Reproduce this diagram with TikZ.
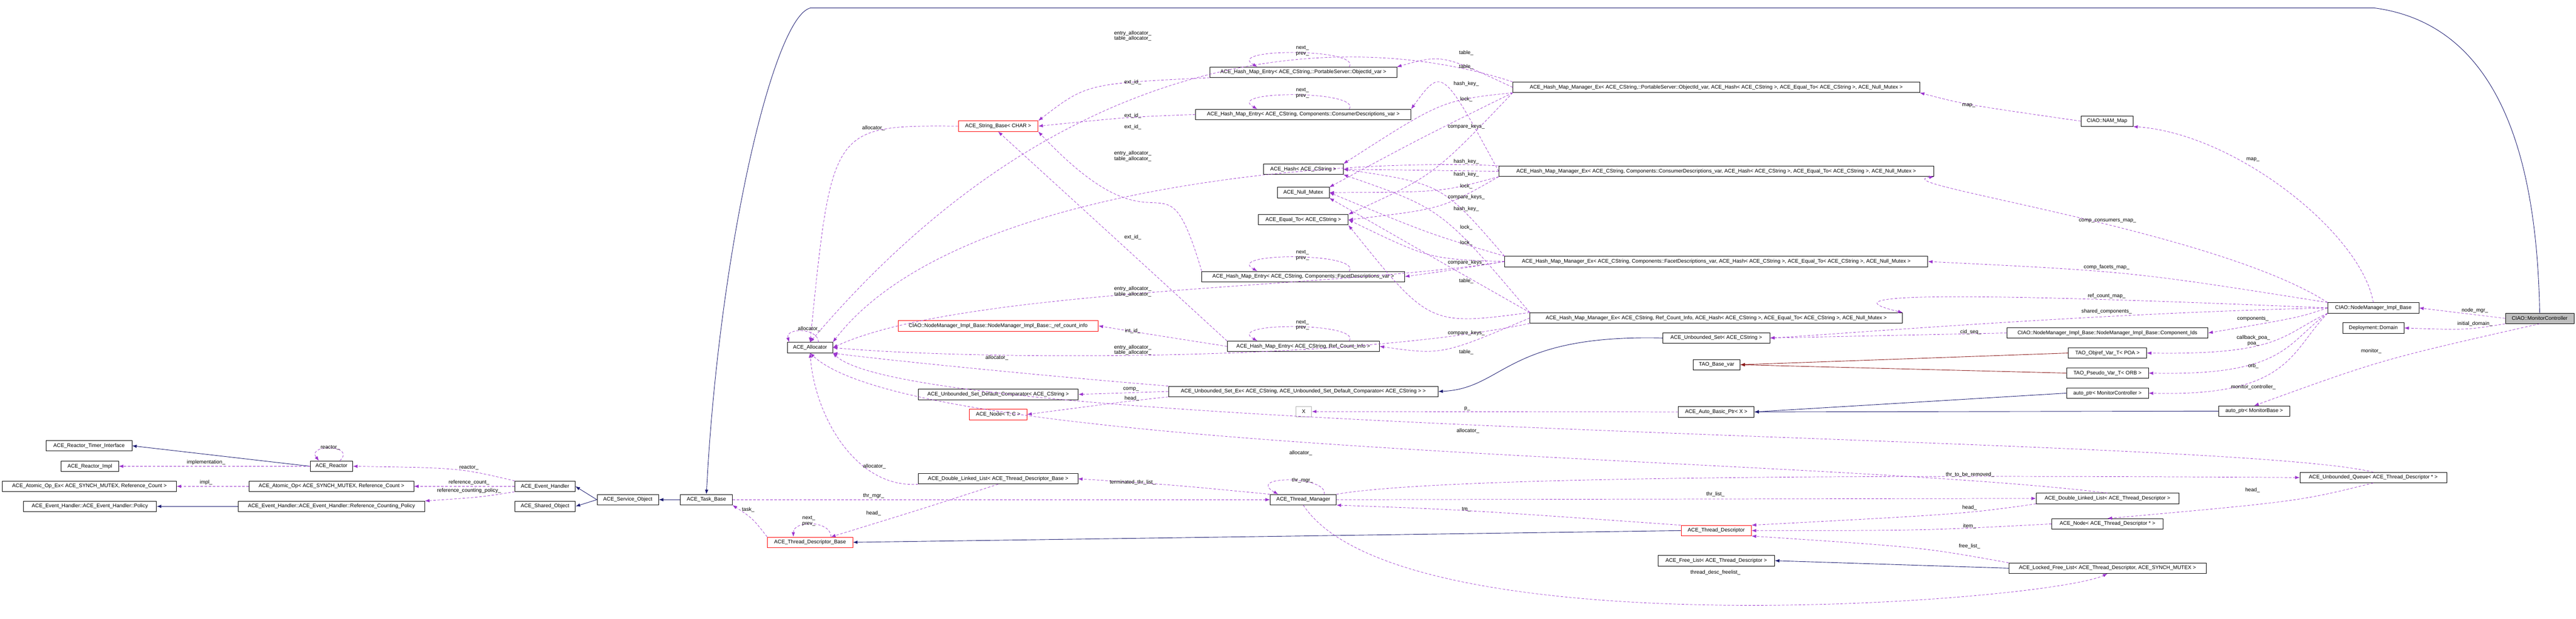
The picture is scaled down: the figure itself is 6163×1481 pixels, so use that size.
\documentclass[tikz,border=0pt]{standalone}
\usepackage{fontspec}
\setmainfont{Liberation Sans}
\usetikzlibrary{arrows.meta}
\definecolor{dorch}{HTML}{9A32CD}
\definecolor{navy}{HTML}{191970}
\definecolor{fbrick}{HTML}{8B1A1A}
\newcommand{\fs}{\fontsize{12.5}{13}\selectfont}
\tikzset{
 box/.style={draw=black, line width=1pt, minimum height=25pt, inner sep=2pt, font=\fs, fill=white},
 redbox/.style={box, draw=red},
 lbl/.style={font=\fs, inner sep=0pt, align=center},
 use/.style={draw=dorch, dash pattern=on 6pt off 4pt, line width=0.9pt, -{Latex[length=11pt,width=8pt]}},
 inh/.style={draw=navy, line width=1.1pt, -{Latex[length=11pt,width=8pt]}},
 tmp/.style={draw=fbrick, line width=1.1pt, -{Latex[length=11pt,width=8pt]}}
}
\begin{document}
\begin{tikzpicture}[x=1pt,y=-1pt]
\useasboundingbox (0,0) rectangle (6163,1481);
% ---- nodes ----
\node[box, fill=black!25, minimum width=164pt] (mc) at (6076,762) {CIAO::MonitorController};
\node[box, minimum width=218pt] (nmb) at (5678,737) {CIAO::NodeManager\_Impl\_Base};
\node[box, minimum width=147pt] (dom) at (5678,785) {Deployment::Domain};
\node[box, minimum width=124pt] (nam) at (5041,290) {CIAO::NAM\_Map};
\node[box, minimum width=481pt] (cids) at (5042,797) {CIAO::NodeManager\_Impl\_Base::NodeManager\_Impl\_Base::Component\_Ids};
\node[box, minimum width=187pt] (objref) at (5042,845) {TAO\_Objref\_Var\_T< POA >};
\node[box, minimum width=196pt] (pseudo) at (5042,893) {TAO\_Pseudo\_Var\_T< ORB >};
\node[box, minimum width=196pt] (apmc) at (5042,941) {auto\_ptr< MonitorController >};
\node[box, minimum width=170pt] (apmb) at (5393,984) {auto\_ptr< MonitorBase >};
\node[box, minimum width=351pt] (uq) at (5678,1143) {ACE\_Unbounded\_Queue< ACE\_Thread\_Descriptor * >};
\node[box, minimum width=341pt] (dlltd) at (5042,1193) {ACE\_Double\_Linked\_List< ACE\_Thread\_Descriptor >};
\node[box, minimum width=267pt] (nodetd) at (5042,1254) {ACE\_Node< ACE\_Thread\_Descriptor * >};
\node[box, minimum width=472pt] (lfl) at (5042,1360) {ACE\_Locked\_Free\_List< ACE\_Thread\_Descriptor, ACE\_SYNCH\_MUTEX >};
\node[box, minimum width=973pt] (m1) at (4106,209) {ACE\_Hash\_Map\_Manager\_Ex< ACE\_CString,::PortableServer::ObjectId\_var, ACE\_Hash< ACE\_CString >, ACE\_Equal\_To< ACE\_CString >, ACE\_Null\_Mutex >};
\node[box, minimum width=1040pt] (m2) at (4106,410) {ACE\_Hash\_Map\_Manager\_Ex< ACE\_CString, Components::ConsumerDescriptions\_var, ACE\_Hash< ACE\_CString >, ACE\_Equal\_To< ACE\_CString >, ACE\_Null\_Mutex >};
\node[box, minimum width=1012pt] (m3) at (4106,626) {ACE\_Hash\_Map\_Manager\_Ex< ACE\_CString, Components::FacetDescriptions\_var, ACE\_Hash< ACE\_CString >, ACE\_Equal\_To< ACE\_CString >, ACE\_Null\_Mutex >};
\node[box, minimum width=891pt] (m4) at (4106,761) {ACE\_Hash\_Map\_Manager\_Ex< ACE\_CString, Ref\_Count\_Info, ACE\_Hash< ACE\_CString >, ACE\_Equal\_To< ACE\_CString >, ACE\_Null\_Mutex >};
\node[box, minimum width=256pt] (uset) at (4106,809) {ACE\_Unbounded\_Set< ACE\_CString >};
\node[box, minimum width=112pt] (tbv) at (4107,873) {TAO\_Base\_var};
\node[box, minimum width=181pt] (abp) at (4106,986) {ACE\_Auto\_Basic\_Ptr< X >};
\node[redbox, minimum width=168pt] (td) at (4106,1270) {ACE\_Thread\_Descriptor};
\node[box, minimum width=279pt] (fl) at (4106,1342) {ACE\_Free\_List< ACE\_Thread\_Descriptor >};
\node[box, minimum width=447pt] (e1) at (3118,173) {ACE\_Hash\_Map\_Entry< ACE\_CString,::PortableServer::ObjectId\_var >};
\node[box, minimum width=515pt] (e2) at (3118,274) {ACE\_Hash\_Map\_Entry< ACE\_CString, Components::ConsumerDescriptions\_var >};
\node[box, minimum width=191pt] (hash) at (3118,405) {ACE\_Hash< ACE\_CString >};
\node[box, minimum width=124pt] (nmtx) at (3118,461) {ACE\_Null\_Mutex};
\node[box, minimum width=215pt] (eq) at (3118,526) {ACE\_Equal\_To< ACE\_CString >};
\node[box, minimum width=485pt] (e3) at (3118,662) {ACE\_Hash\_Map\_Entry< ACE\_CString, Components::FacetDescriptions\_var >};
\node[box, minimum width=364pt] (e4) at (3118,829) {ACE\_Hash\_Map\_Entry< ACE\_CString, Ref\_Count\_Info >};
\node[box, minimum width=645pt] (usex) at (3118,937) {ACE\_Unbounded\_Set\_Ex< ACE\_CString, ACE\_Unbounded\_Set\_Default\_Comparator< ACE\_CString > >};
\node[box, draw=black!30, minimum width=38pt] (xx) at (3119,985) {X};
\node[box, minimum width=158pt] (tm) at (3118,1196) {ACE\_Thread\_Manager};
\node[redbox, minimum width=191pt] (sb) at (2388,302) {ACE\_String\_Base< CHAR >};
\node[redbox, minimum width=479pt] (rci) at (2388,780) {CIAO::NodeManager\_Impl\_Base::NodeManager\_Impl\_Base::\_ref\_count\_info};
\node[box, minimum width=383pt] (udc) at (2388,944) {ACE\_Unbounded\_Set\_Default\_Comparator< ACE\_CString >};
\node[redbox, minimum width=138pt] (nodetc) at (2388,992) {ACE\_Node< T, C >};
\node[box, minimum width=381pt] (dlltdb) at (2388,1146) {ACE\_Double\_Linked\_List< ACE\_Thread\_Descriptor\_Base >};
\node[box, minimum width=108pt] (alloc) at (1938,832) {ACE\_Allocator};
\node[redbox, minimum width=204pt] (tdb) at (1938,1298) {ACE\_Thread\_Descriptor\_Base};
\node[box, minimum width=124pt] (taskb) at (1690,1196) {ACE\_Task\_Base};
\node[box, minimum width=147pt] (svc) at (1502,1196) {ACE\_Service\_Object};
\node[box, minimum width=144pt] (evh) at (1304,1164) {ACE\_Event\_Handler};
\node[box, minimum width=145pt] (sho) at (1304,1212) {ACE\_Shared\_Object};
\node[box, minimum width=102pt] (reactor) at (793,1116) {ACE\_Reactor};
\node[box, minimum width=205pt] (rti) at (213,1067) {ACE\_Reactor\_Timer\_Interface};
\node[box, minimum width=137pt] (rimpl) at (215,1116) {ACE\_Reactor\_Impl};
\node[box, minimum width=394pt] (aop) at (793,1164) {ACE\_Atomic\_Op< ACE\_SYNCH\_MUTEX, Reference\_Count >};
\node[box, minimum width=416pt] (aopex) at (214,1164) {ACE\_Atomic\_Op\_Ex< ACE\_SYNCH\_MUTEX, Reference\_Count >};
\node[box, minimum width=446pt] (rcp) at (793,1212) {ACE\_Event\_Handler::ACE\_Event\_Handler::Reference\_Counting\_Policy};
\node[box, minimum width=319pt] (pol) at (215,1212) {ACE\_Event\_Handler::ACE\_Event\_Handler::Policy};
% ---- solid edges ----
\draw[inh] (mc.north) .. controls (6070,400) and (5990,60) .. (5680,19) -- (1939,19) .. controls (1850,40) and (1720,600) .. (taskb.north);
\draw[inh] (taskb.west) -- (svc.east);
\draw[inh] (svc.west) -- (evh.east);
\draw[inh] (svc.west) -- (sho.east);
\draw[inh] (reactor.west) -- (rti.east);
\draw[inh] (rcp.west) -- (pol.east);
\draw[inh] (td.west) -- (tdb.east);
\draw[inh] (lfl.west) -- (fl.east);
\draw[inh] (apmc.west) -- (abp.east);
\draw[inh] (apmb.west) -- (abp.east);
\draw[inh] (uset.west) .. controls (3600,800) and (3600,930) .. (usex.east);
\draw[tmp] (objref.west) -- (tbv.east);
\draw[tmp] (pseudo.west) -- (tbv.east);
% ---- member edges ----
\draw[use] (mc.west) -- (nmb.east);
\draw[use] (mc.south west) .. controls (5900,790) .. (dom.east);
\draw[use] (mc.south) .. controls (5700,860) .. (apmb.north);
\draw[use] (nmb.north) .. controls (5650,560) and (5350,320) .. (nam.south east);
\draw[use] (nam.west) .. controls (4700,250) .. (m1.south east);
\draw[use] (nmb.north west) .. controls (5300,550) and (4500,440) .. (m2.south east);
\draw[use] (nmb.north west) .. controls (5100,650) .. (m3.east);
\draw[use] (nmb.west) .. controls (4700,700) and (4350,700) .. (m4.north east);
\draw[use] (nmb.west) .. controls (5000,750) and (4400,800) .. (uset.east);
\draw[use] (nmb.west) .. controls (5500,760) .. (cids.east);
\draw[use] (nmb.south west) .. controls (5460,800) and (5460,850) .. (objref.east);
\draw[use] (nmb.south west) .. controls (5470,820) and (5470,900) .. (pseudo.east);
\draw[use] (nmb.south west) .. controls (5480,840) and (5480,950) .. (apmc.east);
\draw[use] (cids.west) -- (uset.east);
\draw[use] (abp.west) -- (xx.east);
\draw[use] (usex.west) -- (udc.east);
\draw[use] (usex.south west) .. controls (2700,960) .. (nodetc.east);
\draw[use] (usex.north west) .. controls (2500,900) and (2100,860) .. (alloc.south east);
% managers
\draw[use] (m1.north west) .. controls (3300,90) and (2600,40) .. (alloc.north);
\draw[use] (m2.north west) .. controls (3300,380) and (2300,420) .. (alloc.north east);
\draw[use] (m3.west) .. controls (3200,690) and (2300,690) .. (alloc.east);
\draw[use] (m4.south west) .. controls (3200,870) and (2300,860) .. (alloc.east);
\draw[use] (m1.west) .. controls (3450,130) .. (e1.north east);
\draw[use] (m2.west) .. controls (3450,160) .. (e2.north east);
\draw[use] (m3.west) .. controls (3450,650) .. (e3.east);
\draw[use] (m4.west) .. controls (3450,850) .. (e4.east);
\draw[use] (m1.south west) .. controls (3450,240) .. (hash.north east);
\draw[use] (m2.west) -- (hash.east);
\draw[use] (m3.north west) .. controls (3450,440) .. (hash.east);
\draw[use] (m4.north west) .. controls (3450,500) .. (hash.south east);
\draw[use] (m1.south west) .. controls (3400,330) .. (nmtx.north east);
\draw[use] (m2.south west) .. controls (3450,460) .. (nmtx.east);
\draw[use] (m3.north west) .. controls (3420,560) .. (nmtx.east);
\draw[use] (m4.north west) .. controls (3400,600) .. (nmtx.south east);
\draw[use] (m1.south west) .. controls (3430,420) .. (eq.north east);
\draw[use] (m2.south west) .. controls (3450,500) .. (eq.east);
\draw[use] (m3.west) .. controls (3420,620) .. (eq.east);
\draw[use] (m4.north west) .. controls (3420,780) .. (eq.south east);
% entries
\draw[use] ([xshift=110pt]e1.north) .. controls ([xshift=140pt,yshift=45pt]e1.north) and ([xshift=-190pt,yshift=45pt]e1.north) .. ([xshift=-110pt]e1.north);
\draw[use] ([xshift=110pt]e2.north) .. controls ([xshift=140pt,yshift=45pt]e2.north) and ([xshift=-190pt,yshift=45pt]e2.north) .. ([xshift=-110pt]e2.north);
\draw[use] ([xshift=110pt]e3.north) .. controls ([xshift=140pt,yshift=45pt]e3.north) and ([xshift=-190pt,yshift=45pt]e3.north) .. ([xshift=-110pt]e3.north);
\draw[use] ([xshift=110pt]e4.north) .. controls ([xshift=140pt,yshift=45pt]e4.north) and ([xshift=-190pt,yshift=45pt]e4.north) .. ([xshift=-110pt]e4.north);
\draw[use] (e1.south west) .. controls (2600,200) .. (sb.north east);
\draw[use] (e2.west) .. controls (2700,280) .. (sb.east);
\draw[use] (e3.north west) .. controls (2780,330) and (2790,640) .. (sb.south east);
\draw[use] (e4.north west) .. controls (2700,600) .. (sb.south);
\draw[use] (e4.west) .. controls (2750,800) .. (rci.east);
\draw[use] (sb.west) .. controls (1990,300) .. (alloc.north);
\draw[use] ([xshift=20pt]alloc.north) .. controls ([xshift=20pt,yshift=35pt]alloc.north) and ([xshift=-60pt,yshift=35pt]alloc.north) .. ([xshift=-50pt]alloc.north);
% lower
\draw[use] (dlltdb.south west) .. controls (2050,1170) and (1950,1000) .. (alloc.south);
\draw[use] (dlltd.north) .. controls (4300,1090) and (2200,1090) .. (alloc.south);
\draw[use] (uq.north) .. controls (5300,1040) and (2200,1040) .. (alloc.south east);
\draw[use] (taskb.east) -- (tm.west);
\draw[use] (tdb.north west) .. controls (1800,1240) .. (taskb.south east);
\draw[use] ([xshift=50pt]tdb.north) .. controls ([xshift=50pt,yshift=40pt]tdb.north) and ([xshift=-40pt,yshift=40pt]tdb.north) .. ([xshift=-40pt]tdb.north);
\draw[use] (dlltdb.south) .. controls (2200,1220) .. ([xshift=50pt]tdb.north);
\draw[use] (tm.north west) .. controls (2800,1160) .. (dlltdb.east);
\draw[use] ([xshift=50pt]tm.north) .. controls ([xshift=60pt,yshift=45pt]tm.north) and ([xshift=-140pt,yshift=45pt]tm.north) .. ([xshift=-60pt]tm.north);
\draw[use] (tm.north east) .. controls (3500,1130) and (5000,1140) .. (uq.west);
\draw[use] (tm.east) -- (dlltd.west);
\draw[use] (tm.south) .. controls (3350,1560) and (4900,1440) .. (lfl.south);
\draw[use] (td.north west) .. controls (3500,1220) .. (tm.south east);
\draw[use] (dlltd.south west) .. controls (4700,1230) .. (td.north east);
\draw[use] (nodetd.west) .. controls (4600,1270) .. (td.east);
\draw[use] (lfl.north west) .. controls (4600,1310) .. (td.south east);
\draw[use] (uq.south) .. controls (5500,1200) .. (nodetd.north);
\draw[use] (evh.north west) .. controls (1100,1120) .. (reactor.east);
\draw[use] (evh.west) -- (aop.east);
\draw[use] (evh.south west) .. controls (1150,1190) .. (rcp.north east);
\draw[use] (reactor.west) -- (rimpl.east);
\draw[use] ([xshift=20pt]reactor.north) .. controls ([xshift=60pt,yshift=40pt]reactor.north) and ([xshift=-60pt,yshift=40pt]reactor.north) .. ([xshift=-30pt]reactor.north);
\draw[use] (aop.west) -- (aopex.east);
% ---- labels ----
\node[lbl] (l1) at (5921,743) {node\_mgr\_};
\node[lbl] (l2) at (5921,775) {initial\_domain\_};
\node[lbl] (l3) at (5673,841) {monitor\_};
\node[lbl] (l4) at (5390,382) {map\_};
\node[lbl] (l5) at (4710,252) {map\_};
\node[lbl] (l6) at (5042,528) {comp\_consumers\_map\_};
\node[lbl] (l7) at (5040,640) {comp\_facets\_map\_};
\node[lbl] (l8) at (5040,709) {ref\_count\_map\_};
\node[lbl] (l9) at (5040,745) {shared\_components\_};
\node[lbl] (l10) at (5390,763) {components\_};
\node[lbl] (l11) at (4715,795) {cid\_seq\_};
\node[lbl] (l12) at (5391,815) {callback\_poa\_\\poa\_};
\node[lbl] (l13) at (5391,876) {orb\_};
\node[lbl] (l14) at (5391,927) {monitor\_controller\_};
\node[lbl] (l15) at (3510,978) {p\_};
\node[lbl] (l16) at (2706,931) {comp\_};
\node[lbl] (l17) at (2708,954) {head\_};
\node[lbl] (l18) at (2385,857) {allocator\_};
\node[lbl] (l19) at (2710,86) {entry\_allocator\_\\table\_allocator\_};
\node[lbl] (l20) at (2710,374) {entry\_allocator\_\\table\_allocator\_};
\node[lbl] (l21) at (2710,698) {entry\_allocator\_\\table\_allocator\_};
\node[lbl] (l22) at (2710,838) {entry\_allocator\_\\table\_allocator\_};
\node[lbl] (l23) at (3116,122) {next\_\\prev\_};
\node[lbl] (l24) at (3116,223) {next\_\\prev\_};
\node[lbl] (l25) at (3116,611) {next\_\\prev\_};
\node[lbl] (l26) at (3116,778) {next\_\\prev\_};
\node[lbl] (l27) at (2710,197) {ext\_id\_};
\node[lbl] (l28) at (2710,277) {ext\_id\_};
\node[lbl] (l29) at (2710,304) {ext\_id\_};
\node[lbl] (l30) at (2710,568) {ext\_id\_};
\node[lbl] (l31) at (2710,792) {int\_id\_};
\node[lbl] (l32) at (3508,127) {table\_};
\node[lbl] (l33) at (3508,160) {table\_};
\node[lbl] (l34) at (3508,673) {table\_};
\node[lbl] (l35) at (3508,843) {table\_};
\node[lbl] (l36) at (3508,201) {hash\_key\_};
\node[lbl] (l37) at (3508,387) {hash\_key\_};
\node[lbl] (l38) at (3508,418) {hash\_key\_};
\node[lbl] (l39) at (3508,500) {hash\_key\_};
\node[lbl] (l40) at (3508,238) {lock\_};
\node[lbl] (l41) at (3508,446) {lock\_};
\node[lbl] (l42) at (3508,544) {lock\_};
\node[lbl] (l43) at (3508,582) {lock\_};
\node[lbl] (l44) at (3508,303) {compare\_keys\_};
\node[lbl] (l45) at (3508,472) {compare\_keys\_};
\node[lbl] (l46) at (3508,628) {compare\_keys\_};
\node[lbl] (l47) at (3508,797) {compare\_keys\_};
\node[lbl] (l48) at (2090,307) {allocator\_};
\node[lbl] (l49) at (1936,788) {allocator\_};
\node[lbl] (l50) at (2092,1116) {allocator\_};
\node[lbl] (l51) at (3112,1084) {allocator\_};
\node[lbl] (l52) at (3512,1032) {allocator\_};
\node[lbl] (l53) at (2090,1187) {thr\_mgr\_};
\node[lbl] (l54) at (1790,1220) {task\_};
\node[lbl] (l55) at (1935,1247) {next\_\\prev\_};
\node[lbl] (l56) at (2090,1229) {head\_};
\node[lbl] (l57) at (2710,1155) {terminated\_thr\_list\_};
\node[lbl] (l58) at (3116,1150) {thr\_mgr\_};
\node[lbl] (l59) at (4713,1136) {thr\_to\_be\_removed\_};
\node[lbl] (l60) at (4104,1183) {thr\_list\_};
\node[lbl] (l61) at (3508,1219) {tm\_};
\node[lbl] (l62) at (4712,1215) {head\_};
\node[lbl] (l63) at (4712,1259) {item\_};
\node[lbl] (l64) at (4712,1308) {free\_list\_};
\node[lbl] (l65) at (4104,1371) {thread\_desc\_freelist\_};
\node[lbl] (l66) at (5389,1173) {head\_};
\node[lbl] (l67) at (790,1071) {reactor\_};
\node[lbl] (l68) at (493,1107) {implementation\_};
\node[lbl] (l69) at (1122,1119) {reactor\_};
\node[lbl] (l70) at (493,1155) {impl\_};
\node[lbl] (l71) at (1122,1155) {reference\_count\_};
\node[lbl] (l72) at (1122,1175) {reference\_counting\_policy\_};
\end{tikzpicture}
\end{document}
